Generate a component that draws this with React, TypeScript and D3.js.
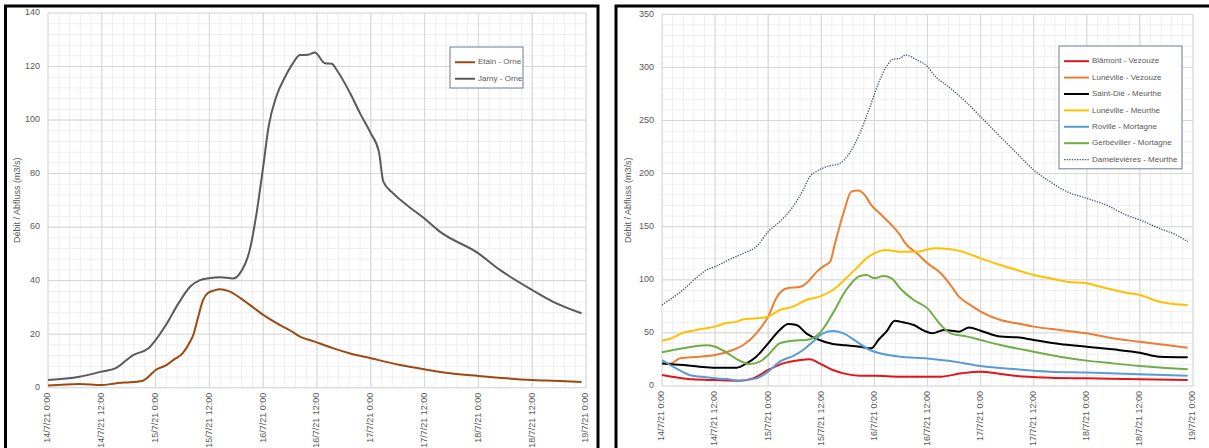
import React from 'react'
import * as d3 from 'd3'

// time axis labels (every 12 hours from 14/7/21 0:00)
const timeLabels = [
  '14/7/21 0:00', '14/7/21 12:00', '15/7/21 0:00', '15/7/21 12:00', '16/7/21 0:00',
  '16/7/21 12:00', '17/7/21 0:00', '17/7/21 12:00', '18/7/21 0:00', '18/7/21 12:00', '19/7/21 0:00',
]

// ---- Orne (left chart) : hours since 14/7 0:00, discharge m3/s
const etainHours = [0, 7, 12, 15, 17, 21, 22.4, 24, 26.5, 28, 30, 31.5, 32.4, 33.5, 34.6, 35.6, 37, 38.3, 40.3, 43, 46, 48, 51, 54.5, 56, 59.5, 63.7, 67.4, 72, 78.5, 83.9, 89.7, 96, 102.4, 108, 114.3, 119]
const etainValues = [0.8, 1.4, 1.0, 1.6, 1.9, 2.5, 4.1, 6.6, 8.5, 10.4, 12.8, 16.6, 19.7, 26.5, 32.8, 35.3, 36.3, 36.8, 36.1, 33.4, 29.7, 27.2, 24.1, 20.9, 19.3, 17.2, 14.7, 12.8, 11.0, 8.5, 6.9, 5.4, 4.4, 3.5, 2.9, 2.5, 2.1]
const jarnyHours = [0, 7, 12, 15, 19, 22.4, 24, 26.5, 29.1, 31.7, 33.9, 35.9, 38.4, 41.3, 42.8, 45, 46.4, 48, 49.2, 50.9, 52.9, 54.4, 56.2, 58, 59.5, 61.8, 63.3, 64.4, 67.4, 69.6, 72, 73.8, 74.8, 77, 80, 83.9, 87.4, 96, 100.8, 108, 112.7, 119]
const jarnyValues = [2.9, 4.1, 6.0, 7.2, 12.2, 14.7, 17.8, 24, 31.5, 37.7, 40.2, 40.9, 41.3, 40.8, 42.7, 51.5, 63.9, 82.6, 97.5, 108.7, 116.2, 120.6, 124.3, 124.4, 125.2, 121.2, 121, 118.7, 110, 102.5, 95, 88.2, 77, 72.6, 68.3, 63.3, 58.3, 50.2, 44, 36.5, 32.1, 27.8]

// ---- Meurthe / Vezouze / Mortagne (right chart)
const blamontHours = [0, 3.2, 7, 12, 17.5, 20.6, 24, 27.4, 31.3, 33.4, 35.6, 38.6, 41, 44.7, 48, 53.8, 63, 67.6, 72, 76.5, 80.2, 87.7, 96, 108, 118.8]
const blamontValues = [10.4, 8.2, 6.3, 5.6, 5, 7.2, 15.1, 21.3, 24.5, 25.1, 21.3, 15.1, 11.9, 9.7, 9.7, 8.8, 8.8, 11.9, 13.5, 11.3, 9.4, 7.8, 7.2, 6.3, 5.6]
const lunevilleVHours = [0, 2.1, 4, 8.5, 12, 16, 18.4, 21.3, 24, 26, 28.3, 31.3, 33, 35, 36.4, 38, 39.1, 41, 42.8, 44.3, 45.8, 47.3, 49.2, 51.5, 53.8, 55, 57.6, 60, 63, 65.2, 67.1, 69.7, 72, 76.5, 80.2, 84, 89.9, 96, 101.8, 108, 113.9, 118.8]
const lunevilleVValues = [21.3, 21.3, 26, 27.6, 29.2, 33.9, 38.6, 49.6, 65.3, 84.1, 92, 93.5, 98.2, 107.7, 112.4, 117.1, 134.3, 162.6, 183, 184, 179.9, 170.4, 162.6, 153.2, 142.2, 134.3, 124.9, 115.5, 106.1, 95.1, 84.1, 76.3, 70, 62.1, 59, 55.9, 52.7, 49.6, 44.9, 41.7, 38.6, 36.1]
const saintDieHours = [0, 4.7, 8.5, 12, 16.9, 19.1, 21.3, 24, 26.6, 28.5, 30.4, 32.6, 35.6, 38.6, 41.6, 44.7, 47.3, 48.9, 50.7, 52.6, 53.8, 56.9, 59.2, 61.1, 63.7, 67.1, 69.4, 72, 76.5, 80.2, 84, 89.9, 96, 101.8, 108, 112.4, 118.8]
const saintDieValues = [21.3, 19.8, 18.2, 17.3, 17.3, 21.3, 27.6, 40.2, 52.7, 58.4, 57.4, 49.6, 43.3, 39.5, 38.3, 37, 35.5, 43.3, 51.2, 61.5, 60.6, 57.4, 52.1, 49.6, 52.7, 51.2, 55.2, 52.1, 46.5, 45.8, 43.3, 39.5, 37, 34.5, 31.4, 27.6, 27]
const lunevilleMHours = [0, 2.1, 4.4, 7, 8.5, 10, 12, 14.3, 16.9, 18.4, 21.3, 24, 26.6, 29.6, 32.6, 35.6, 38.6, 41.6, 44.3, 46.2, 48, 50.4, 53.8, 57.6, 61.5, 65.2, 69, 72, 76.5, 80.2, 84, 87.7, 91.5, 96, 100.4, 104.9, 108, 112.4, 118.8]
const lunevilleMValues = [42.7, 44.9, 49.6, 52.1, 53.4, 54.3, 55.9, 59, 60.6, 62.8, 63.7, 65.3, 71.6, 74.7, 81, 84.1, 90.4, 101.4, 112.4, 120.2, 124.9, 128.1, 126.5, 126.5, 129.6, 128.7, 124.9, 120.2, 113.9, 109.2, 104.5, 101.4, 98.2, 96.7, 92, 87.9, 85.7, 79.4, 76.3]
const rovilleHours = [0, 3.2, 6.2, 10, 12, 14.5, 17.5, 21.3, 24, 26.6, 29.6, 31.9, 34.1, 36.4, 38.6, 41, 44, 47, 50, 53.8, 60, 65.2, 72, 80.2, 87.7, 96, 108, 118.8]
const rovilleValues = [24.5, 16.6, 10.4, 8.2, 7.2, 6.6, 5, 7.2, 13.5, 22.9, 28.2, 33.9, 41.7, 49.6, 51.8, 49.6, 41.7, 33.9, 30.1, 27.6, 26, 23.5, 18.8, 15.7, 13.5, 12.6, 11, 9.7]
const gerbevillerHours = [0, 4.7, 10, 12, 14.5, 17.5, 19.8, 22.1, 24, 26.6, 29.6, 32.6, 35.6, 38.6, 41.6, 44.7, 46.2, 48, 50, 51.9, 53.8, 56.9, 60, 63, 65.2, 69, 72, 76.5, 84, 89.9, 96, 101.8, 108, 113.9, 118.8]
const gerbevillerValues = [31.7, 35.5, 38.3, 37, 31.7, 23.9, 20.7, 22.9, 29.2, 40.2, 42.7, 43.3, 49.6, 68.4, 90.4, 103.6, 104.5, 101.4, 103.6, 101.4, 92, 81, 73.1, 57.4, 49.6, 46.5, 43.3, 38.6, 32.3, 27.6, 23.9, 21.3, 18.8, 16.9, 15.7]
const damelevieresHours = [0, 4.7, 8.5, 10, 12, 15, 18.4, 21.3, 24, 27, 29.6, 31.9, 33.4, 34.8, 37.2, 40.2, 42.1, 44.7, 47, 48.9, 50.7, 52.2, 53.8, 55, 57.6, 60, 61.5, 65.2, 69, 72, 75.7, 80.2, 84, 87.7, 91.5, 96, 100.4, 104.9, 108, 112.4, 116.2, 118.8]
const damelevieresValues = [76.3, 90.4, 104.5, 109.2, 112.4, 118.6, 125, 131.2, 145.3, 156.3, 168.9, 184.6, 197.1, 201.8, 206.5, 209.7, 217.5, 237.9, 263, 285, 300.7, 307.6, 308.5, 311.7, 307, 300.7, 292.8, 280.3, 266.2, 253.6, 237.9, 219.1, 203.4, 192.4, 183, 176.7, 170.4, 161, 156.3, 148.5, 142.2, 135.9]

const FONT = '"Liberation Sans", Arial, sans-serif'
const TEXT = '#595959'

type Series = { name: string; hours: number[]; values: number[]; color: string; width: number; dash?: string }

type PanelProps = {
  box: [number, number, number]
  plot: { left: number; right: number; top: number; bottom: number }
  yMax: number
  yStep: number
  yMinorStep: number
  titleX: number
  series: Series[]
  legend: { x: number; y: number; w: number; rowH: number; lineW: number }
}

const Panel = ({ box, plot, yMax, yStep, yMinorStep, titleX, series, legend }: PanelProps) => {
  const x = d3.scaleLinear().domain([0, 120]).range([plot.left, plot.right])
  const y = d3.scaleLinear().domain([0, yMax]).range([plot.bottom, plot.top])
  const majorX = d3.range(0, 121, 12)
  const minorX = d3.range(0, 120.01, 12 / 5)
  const majorY = d3.range(0, yMax + 0.01, yStep)
  const minorY = d3.range(0, yMax + 0.01, yMinorStep)
  const line = d3.line<[number, number]>()
    .x(d => x(d[0]))
    .y(d => y(d[1]))
    .curve(d3.curveMonotoneX)
  const legendH = series.length * legend.rowH + 8
  return (
    <g>
      <rect x={box[0]} y={6} width={box[1] - box[0]} height={box[2]} fill="#fff" stroke="#000" strokeWidth={3} />
      {minorX.map((h, i) => (
        <line key={'mx' + i} x1={x(h)} x2={x(h)} y1={plot.top} y2={plot.bottom} stroke="#efefef" strokeWidth={1} />
      ))}
      {minorY.map((v, i) => (
        <line key={'my' + i} x1={plot.left} x2={plot.right} y1={y(v)} y2={y(v)} stroke="#efefef" strokeWidth={1} />
      ))}
      {majorX.map((h, i) => (
        <line key={'Mx' + i} x1={x(h)} x2={x(h)} y1={plot.top} y2={plot.bottom} stroke="#d6d6d6" strokeWidth={1} />
      ))}
      {majorY.map((v, i) => (
        <line key={'My' + i} x1={plot.left} x2={plot.right} y1={y(v)} y2={y(v)} stroke="#d6d6d6" strokeWidth={1} />
      ))}
      {majorY.map((v, i) => (
        <text key={'ty' + i} x={plot.left - 8} y={y(v)} textAnchor="end" dominantBaseline="middle"
          fontSize={9} fill={TEXT} fontFamily={FONT}>{v}</text>
      ))}
      {majorX.map((h, i) => (
        <text key={'tx' + i} transform={`translate(${x(h)},${plot.bottom + 5}) rotate(-90)`} textAnchor="end"
          dominantBaseline="middle" fontSize={9} fill={TEXT} fontFamily={FONT}>{timeLabels[i]}</text>
      ))}
      <text transform={`translate(${titleX},${(plot.top + plot.bottom) / 2}) rotate(-90)`} textAnchor="middle"
        dominantBaseline="middle" fontSize={9} fill={TEXT} fontFamily={FONT}>Débit / Abfluss (m3/s)</text>
      {series.map(s => (
        <path key={s.name} d={line(s.hours.map((h, i) => [h, s.values[i]] as [number, number])) || ''}
          fill="none" stroke={s.color} strokeWidth={s.width} strokeDasharray={s.dash} strokeLinejoin="round" />
      ))}
      <rect x={legend.x} y={legend.y} width={legend.w} height={legendH} fill="#fff" stroke="#6f7d8c" strokeWidth={1} />
      {series.map((s, i) => {
        const cy = legend.y + 7 + legend.rowH * (i + 0.5)
        return (
          <g key={'lg' + s.name}>
            <line x1={legend.x + 5} x2={legend.x + 5 + legend.lineW} y1={cy} y2={cy} stroke={s.color}
              strokeWidth={s.width} strokeDasharray={s.dash} />
            <text x={legend.x + 8 + legend.lineW} y={cy} dominantBaseline="middle" fontSize={8} fill={TEXT}
              fontFamily={FONT}>{s.name}</text>
          </g>
        )
      })}
    </g>
  )
}

const leftSeries: Series[] = [
  { name: 'Etain - Orne', hours: etainHours, values: etainValues, color: '#9c4a12', width: 2 },
  { name: 'Jarny - Orne', hours: jarnyHours, values: jarnyValues, color: '#5a5a5a', width: 2 },
]

const rightSeries: Series[] = [
  { name: 'Blâmont - Vezouze', hours: blamontHours, values: blamontValues, color: '#e0161b', width: 2 },
  { name: 'Lunéville - Vezouze', hours: lunevilleVHours, values: lunevilleVValues, color: '#ed7d31', width: 2 },
  { name: 'Saint-Dié - Meurthe', hours: saintDieHours, values: saintDieValues, color: '#000000', width: 2 },
  { name: 'Lunéville - Meurthe', hours: lunevilleMHours, values: lunevilleMValues, color: '#ffc000', width: 2 },
  { name: 'Roville - Mortagne', hours: rovilleHours, values: rovilleValues, color: '#5b9bd5', width: 2 },
  { name: 'Gerbéviller - Mortagne', hours: gerbevillerHours, values: gerbevillerValues, color: '#70ad47', width: 2 },
  { name: 'Damelevières - Meurthe', hours: damelevieresHours, values: damelevieresValues, color: '#44546a', width: 1.3, dash: '1.3,1.3' },
]

export default function App() {
  return (
    <svg width={1209} height={448} style={{ position: 'absolute', left: 0, top: 0, background: '#fff' }}>
      <Panel box={[5.5, 598, 460]} plot={{ left: 48, right: 586, top: 13, bottom: 387.7 }}
        yMax={140} yStep={20} yMinorStep={4} titleX={18} series={leftSeries}
        legend={{ x: 450, y: 47, w: 73, rowH: 16.5, lineW: 20 }} />
      <Panel box={[616, 1212, 460]} plot={{ left: 662, right: 1193, top: 14.3, bottom: 386 }}
        yMax={350} yStep={50} yMinorStep={10} titleX={629} series={rightSeries}
        legend={{ x: 1059, y: 46, w: 123, rowH: 16.4, lineW: 25 }} />
    </svg>
  )
}
